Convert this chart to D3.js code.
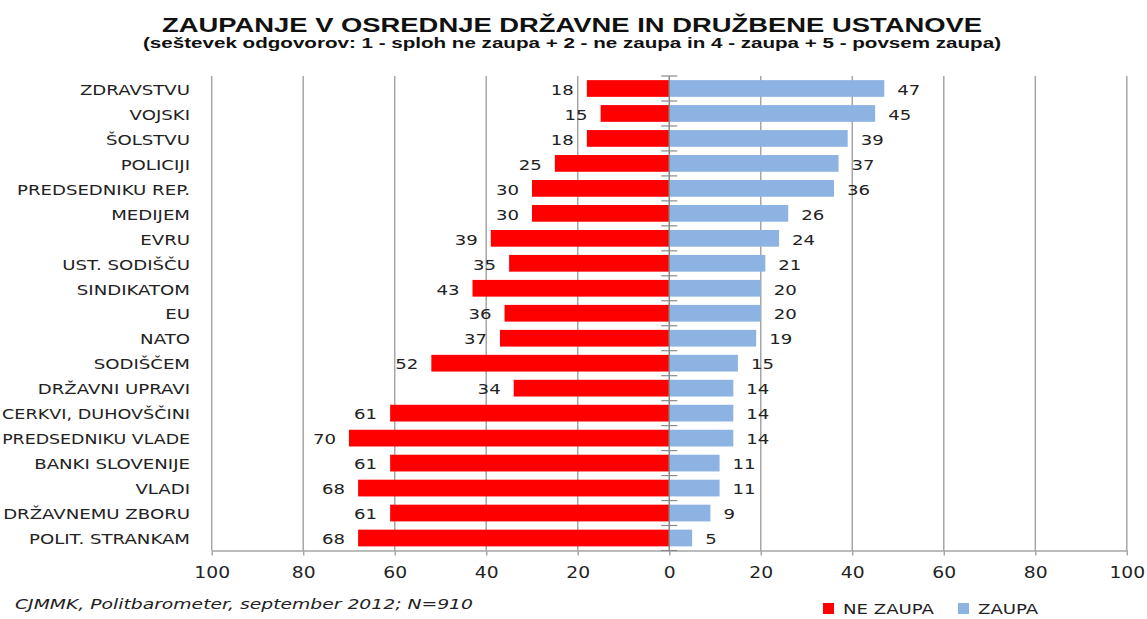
<!DOCTYPE html>
<html>
<head>
<meta charset="utf-8">
<script src="https://cdn.jsdelivr.net/npm/d3@7"></script>
<style>
  body { margin: 0; background: #fff; }
  svg { display: block; }
  .lbl { font-family: "DejaVu Sans", sans-serif; font-size: 14.5px; fill: #222; }
</style>
</head>
<body>
<svg id="chart" width="1147" height="619"></svg>
<script>
// institutions, top to bottom
var categories = ["ZDRAVSTVU", "VOJSKI", "ŠOLSTVU", "POLICIJI", "PREDSEDNIKU REP.", "MEDIJEM",
  "EVRU", "UST. SODIŠČU", "SINDIKATOM", "EU", "NATO", "SODIŠČEM", "DRŽAVNI UPRAVI",
  "CERKVI, DUHOVŠČINI", "PREDSEDNIKU VLADE", "BANKI SLOVENIJE", "VLADI", "DRŽAVNEMU ZBORU",
  "POLIT. STRANKAM"];

// NE ZAUPA (1 + 2)
var neZaupa = [18, 15, 18, 25, 30, 30, 39, 35, 43, 36, 37, 52, 34, 61, 70, 61, 68, 61, 68];
// ZAUPA (4 + 5)
var zaupa = [47, 45, 39, 37, 36, 26, 24, 21, 20, 20, 19, 15, 14, 14, 14, 11, 11, 9, 5];

var tickValues = [-100, -80, -60, -40, -20, 0, 20, 40, 60, 80, 100];

var RED = "#ff0000", BLUE = "#8db3e2", GRID = "#a6a6a6";
var SX = 1.25; // horizontal stretch of the labels

var svg = d3.select("#chart");

var x = d3.scaleLinear().domain([-100, 100]).range([211.7, 1126.8]);
var y = d3.scaleBand().domain(categories).range([76, 550.5])
  .paddingInner(0.33).paddingOuter(0.165);

var top0 = 76, bottom0 = 550.5;

// vertical gridlines
svg.append("g").selectAll("line")
  .data(tickValues.filter(function(d){ return d != 0; }))
  .enter().append("line")
    .attr("x1", function(d){ return x(d); })
    .attr("x2", function(d){ return x(d); })
    .attr("y1", top0).attr("y2", bottom0)
    .attr("stroke", GRID).attr("stroke-width", 1.5);

// bottom axis
var xAxis = svg.append("g")
  .attr("transform", "translate(0," + bottom0 + ")")
  .call(d3.axisBottom(x).tickValues(tickValues)
    .tickFormat(function(d){ return Math.abs(d); })
    .tickSizeInner(5).tickSizeOuter(0));
xAxis.attr("font-family", null).attr("font-size", null);
xAxis.select(".domain").attr("stroke", GRID).attr("stroke-width", 1.5);
xAxis.selectAll(".tick line").attr("stroke", GRID).attr("stroke-width", 1.5);
xAxis.selectAll(".tick text")
  .attr("class", "lbl")
  .attr("fill", null)
  .style("font-size", "15px")
  .attr("y", 22).attr("dy", "0.36em")
  .attr("transform", "scale(" + SX + ",1)")
  .attr("x", 0);

// bars
var bars = svg.append("g");
bars.selectAll("rect.ne")
  .data(categories)
  .enter().append("rect")
    .attr("class", "ne")
    .attr("x", function(d, i){ return x(-neZaupa[i]); })
    .attr("y", function(d){ return y(d); })
    .attr("width", function(d, i){ return x(0) - x(-neZaupa[i]); })
    .attr("height", y.bandwidth())
    .attr("fill", RED);

bars.selectAll("rect.za")
  .data(categories)
  .enter().append("rect")
    .attr("class", "za")
    .attr("x", x(0))
    .attr("y", function(d){ return y(d); })
    .attr("width", function(d, i){ return x(zaupa[i]) - x(0); })
    .attr("height", y.bandwidth())
    .attr("fill", BLUE);

// zero axis with ticks between categories
var zero = svg.append("g");
zero.append("line")
  .attr("x1", x(0)).attr("x2", x(0))
  .attr("y1", top0).attr("y2", bottom0)
  .attr("stroke", "#8a8a8a").attr("stroke-width", 1.5);
var bounds = d3.range(categories.length + 1).map(function(i){ return top0 + i * y.step(); });
zero.selectAll("line.tk")
  .data(bounds)
  .enter().append("line")
    .attr("class", "tk")
    .attr("x1", x(0) - 8).attr("x2", x(0) + 8)
    .attr("y1", function(d){ return d; }).attr("y2", function(d){ return d; })
    .attr("stroke", "#8a8a8a").attr("stroke-width", 1.2);

// category labels (long ones squeezed a little so they stay inside the page)
svg.append("g").selectAll("text")
  .data(categories)
  .enter().append("text")
    .attr("class", "lbl")
    .attr("text-anchor", "end")
    .attr("dy", "0.36em")
    .text(function(d){ return d; })
    .attr("transform", function(d){
      var w = this.getComputedTextLength();
      var s = Math.min(SX, 188 / w);
      return "translate(190," + (y(d) + y.bandwidth() / 2 + 1) + ") scale(" + s + ",1)";
    });

// value labels
var vals = svg.append("g");
vals.selectAll("text.ne")
  .data(categories)
  .enter().append("text")
    .attr("class", "lbl ne")
    .attr("text-anchor", "end")
    .attr("dy", "0.36em")
    .attr("transform", function(d, i){
      return "translate(" + (x(-neZaupa[i]) - 13) + "," + (y(d) + y.bandwidth() / 2 + 1) + ") scale(" + SX + ",1)";
    })
    .text(function(d, i){ return neZaupa[i]; });

vals.selectAll("text.za")
  .data(categories)
  .enter().append("text")
    .attr("class", "lbl za")
    .attr("text-anchor", "start")
    .attr("dy", "0.36em")
    .attr("transform", function(d, i){
      return "translate(" + (x(zaupa[i]) + 13) + "," + (y(d) + y.bandwidth() / 2 + 1) + ") scale(" + SX + ",1)";
    })
    .text(function(d, i){ return zaupa[i]; });

// titles
svg.append("text")
  .attr("x", 572).attr("y", 32)
  .attr("text-anchor", "middle")
  .attr("textLength", 820).attr("lengthAdjust", "spacingAndGlyphs")
  .style("font-family", "'Liberation Sans', Arial, sans-serif")
  .style("font-weight", "bold").style("font-size", "21px").style("fill", "#111")
  .text("ZAUPANJE V OSREDNJE DRŽAVNE IN DRUŽBENE USTANOVE");

svg.append("text")
  .attr("x", 572).attr("y", 48)
  .attr("text-anchor", "middle")
  .attr("textLength", 858).attr("lengthAdjust", "spacingAndGlyphs")
  .style("font-family", "'Liberation Sans', Arial, sans-serif")
  .style("font-weight", "bold").style("font-size", "14.5px").style("fill", "#111")
  .text("(seštevek odgovorov: 1 - sploh ne zaupa + 2 - ne zaupa in 4 - zaupa + 5 - povsem zaupa)");

// source note
svg.append("text")
  .attr("x", 15).attr("y", 609)
  .attr("textLength", 458).attr("lengthAdjust", "spacingAndGlyphs")
  .style("font-family", "'DejaVu Sans', sans-serif")
  .style("font-style", "italic").style("font-size", "14px").style("fill", "#222")
  .text("CJMMK, Politbarometer, september 2012; N=910");

// legend
var legendItems = [
  { name: "NE ZAUPA", color: RED, x: 823 },
  { name: "ZAUPA", color: BLUE, x: 958 }
];
var lg = svg.append("g").selectAll("g")
  .data(legendItems)
  .enter().append("g")
    .attr("transform", function(d){ return "translate(" + d.x + ",603)"; });
lg.append("rect")
  .attr("width", 11).attr("height", 11)
  .attr("fill", function(d){ return d.color; });
lg.append("text")
  .attr("class", "lbl")
  .attr("transform", "translate(20,5.5) scale(" + SX + ",1)")
  .attr("dy", "0.36em")
  .text(function(d){ return d.name; });
</script>
</body>
</html>
